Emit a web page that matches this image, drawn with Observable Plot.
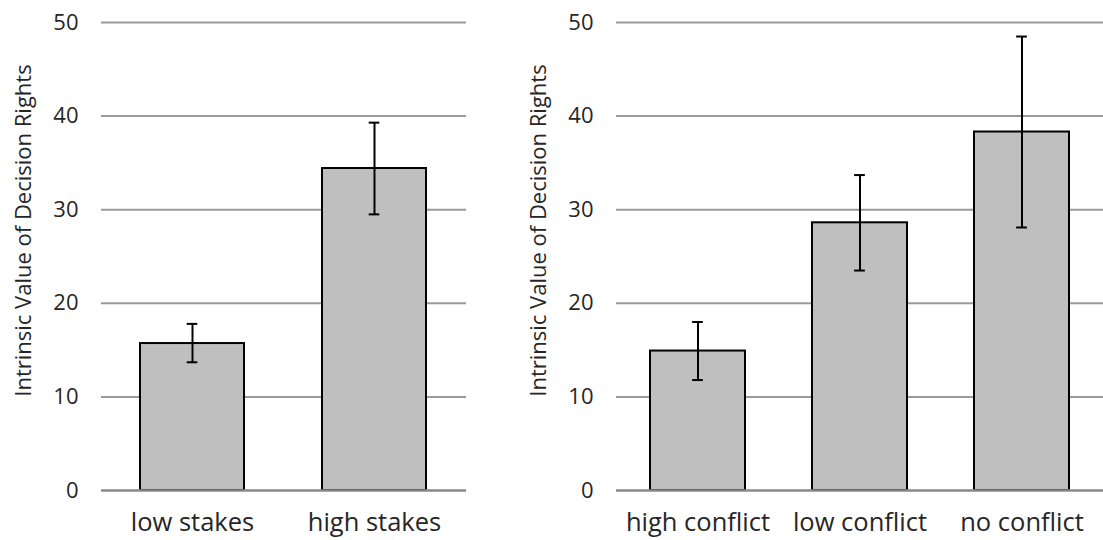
<!DOCTYPE html>
<html><head><meta charset="utf-8">
<script src="https://cdn.jsdelivr.net/npm/d3@7"></script>
<script src="https://cdn.jsdelivr.net/npm/@observablehq/plot@0.6"></script>
<style>
body{margin:0;background:#fff;}
#wrap{position:relative;width:1103px;height:540px;overflow:hidden;}
#wrap svg{position:absolute;top:0;}
</style></head><body><div id="wrap"></div>
<script>
const stakesCategories = ["low stakes", "high stakes"];
const stakesMeans = [15.7, 34.4];
const stakesLow = [13.7, 29.5];
const stakesHigh = [17.8, 39.3];

const conflictCategories = ["high conflict", "low conflict", "no conflict"];
const conflictMeans = [14.9, 28.6, 38.3];
const conflictLow = [11.8, 23.5, 28.1];
const conflictHigh = [18.0, 33.7, 48.5];

const yTicks = [0, 10, 20, 30, 40, 50];
const yTitle = "Intrinsic Value of Decision Rights";

function panel(cats, means, lows, highs, {width, marginRight, padding}) {
  const data = cats.map((c, i) => ({c, v: means[i], lo: lows[i], hi: highs[i]}));
  const marginLeft = 101, marginTop = 22, marginBottom = 50, height = 540;
  const step = (width - marginLeft - marginRight) / cats.length;
  const capInset = (step * (1 - padding) - 11) / 2;
  const font = "'Open Sans', sans-serif";
  return Plot.plot({
    width, height, marginLeft, marginRight, marginTop, marginBottom,
    style: {fontFamily: font, fontSize: "22px", color: "#262626", background: "transparent", overflow: "visible"},
    x: {domain: cats, paddingInner: padding, paddingOuter: padding / 2, label: null},
    y: {domain: [0, 50], label: null},
    marks: [
      Plot.gridY(yTicks.filter(d => d > 0), {stroke: "#9a9a9a", strokeOpacity: 1, strokeWidth: 2}),
      Plot.barY(data, {x: "c", y: "v", fill: "#bfbfbf", stroke: "#000", strokeWidth: 2}),
      Plot.ruleY([0], {stroke: "#888", strokeWidth: 2.5}),
      Plot.ruleX(data, {x: "c", y1: "lo", y2: "hi", stroke: "#000", strokeWidth: 2}),
      Plot.tickY(data, {x: "c", y: "lo", stroke: "#000", strokeWidth: 2, insetLeft: capInset, insetRight: capInset}),
      Plot.tickY(data, {x: "c", y: "hi", stroke: "#000", strokeWidth: 2, insetLeft: capInset, insetRight: capInset}),
      Plot.axisY({ticks: yTicks, tickSize: 0, tickPadding: 23, label: null, fontSize: 22}),
      Plot.axisX({tickSize: 0, tickPadding: 22, label: null, fontSize: 25.5}),
      Plot.text([yTitle], {frameAnchor: "left", rotate: -90, textAnchor: "middle", lineAnchor: "middle", dx: -78, dy: -26, fontSize: 22, fill: "#262626"})
    ]
  });
}

const wrap = document.getElementById("wrap");
const left = panel(stakesCategories, stakesMeans, stakesLow, stakesHigh, {width: 515, marginRight: 49, padding: 0.428});
left.style.left = "0px";
const right = panel(conflictCategories, conflictMeans, conflictLow, conflictHigh, {width: 588, marginRight: 0, padding: 0.413});
right.style.left = "515px";
wrap.appendChild(left);
wrap.appendChild(right);
</script></body></html>
